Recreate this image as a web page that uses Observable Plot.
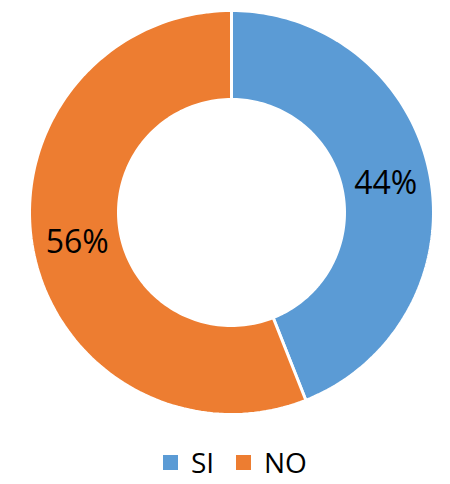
<!DOCTYPE html>
<html>
<head>
<meta charset="utf-8">
<script src="https://cdn.jsdelivr.net/npm/d3@7"></script>
<script src="https://cdn.jsdelivr.net/npm/@observablehq/plot@0.6"></script>
<style>
  html, body { margin: 0; padding: 0; background: #fff; }
  #chart { width: 450px; height: 440px; }
  #legend { position: relative; height: 44px; font-family: "Open Sans", sans-serif; font-size: 28px; color: #000; }
  .item { position: absolute; top: 0; display: flex; align-items: center; height: 44px; }
  .sw { width: 15px; height: 15px; margin-right: 13px; }
</style>
</head>
<body>
<div id="chart"></div>
<div id="legend"></div>
<script>
const categories = ["SI", "NO"];
const values = [44, 56];
const labels = ["44%", "56%"];
const colors = ["#5B9BD5", "#ED7D31"];

const R_OUT = 202, R_IN = 113, R_LAB = 157;

const pie = d3.pie().sort(null).value(d => d.value);
const arcs = pie(categories.map((c, i) => ({category: c, value: values[i], label: labels[i]})));

// polygon points (angle measured clockwise from 12 o'clock)
const pts = [];
for (const a of arcs) {
  const n = 120;
  for (let k = 0; k <= n; k++) {
    const t = a.startAngle + (a.endAngle - a.startAngle) * k / n;
    pts.push({category: a.data.category, x: R_OUT * Math.sin(t), y: R_OUT * Math.cos(t)});
  }
  for (let k = n; k >= 0; k--) {
    const t = a.startAngle + (a.endAngle - a.startAngle) * k / n;
    pts.push({category: a.data.category, x: R_IN * Math.sin(t), y: R_IN * Math.cos(t)});
  }
}
const labs = arcs.map(a => {
  const m = (a.startAngle + a.endAngle) / 2;
  return {label: a.data.label, x: R_LAB * Math.sin(m), y: R_LAB * Math.cos(m)};
});

const plot = Plot.plot({
  width: 450,
  height: 440,
  margin: 0,
  x: {domain: [-231, 219], axis: null},
  y: {domain: [-228, 212], axis: null},
  color: {domain: categories, range: colors},
  marks: [
    Plot.line(pts, {x: "x", y: "y", z: "category", fill: "category", stroke: "white", strokeWidth: 3, curve: "linear-closed"}),
    Plot.text(labs, {x: "x", y: "y", text: "label", fontSize: 32, fontFamily: "Open Sans", fill: "black", dy: 1})
  ]
});
document.getElementById("chart").appendChild(plot);

const legend = document.getElementById("legend");
const lefts = [163, 236];
categories.forEach((c, i) => {
  const it = document.createElement("div");
  it.className = "item";
  it.style.left = lefts[i] + "px";
  it.innerHTML = `<span class="sw" style="background:${colors[i]}"></span><span>${c}</span>`;
  legend.appendChild(it);
});
</script>
</body>
</html>
